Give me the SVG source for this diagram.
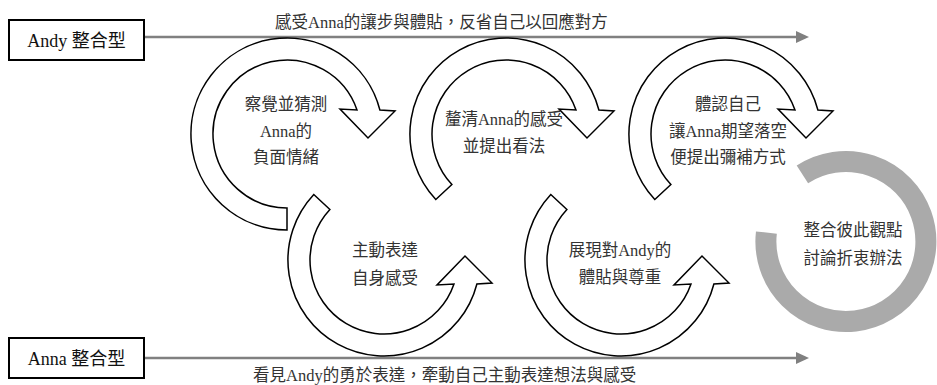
<svg xmlns="http://www.w3.org/2000/svg" xmlns:xlink="http://www.w3.org/1999/xlink" width="937" height="385" viewBox="0 0 937 385">
<style>
.t{font-family:"Liberation Serif","Noto Sans CJK TC",serif;font-size:16.5px;fill:#333}
.m{text-anchor:middle}
.box{fill:#fff;stroke:#000;stroke-width:2}
.bt{font-family:"Liberation Serif","Noto Sans CJK TC",serif;font-size:18px;fill:#111;text-anchor:middle}
.arr{fill:#fff;stroke:#000;stroke-width:1.5;stroke-linejoin:miter}
.ln{stroke:#808080;stroke-width:2.5;fill:none}
.hd{fill:#808080}
</style>
<defs>
<path id="a1" class="arr" d="M 0,96 A 96 96 0 1 1 92.9,-24 L 108,-23 L 81,4 L 53,-25 L 70,-24 A 74 74 0 1 0 0,74 Z"/>
<path id="a2" class="arr" d="M -70.2,65.5 A 96 96 0 1 1 92.9,-24 L 108,-23 L 81,4 L 53,-25 L 70,-24 A 74 74 0 1 0 -54.1,50.5 Z"/>
</defs>
<g id="connectors">
<line class="ln" x1="144" y1="37" x2="798" y2="37"/>
<polygon class="hd" points="796,31 809,37 796,43"/>
<line class="ln" x1="144" y1="358" x2="798" y2="358"/>
<polygon class="hd" points="796,352 809,358 796,364"/>
</g>
<g id="label-top"><text class="t" x="275" y="28">感受Anna的讓步與體貼，反省自己以回應對方</text></g>
<g id="label-bottom"><text class="t" x="253" y="381">看見Andy的勇於表達，牽動自己主動表達想法與感受</text></g>
<g id="andy">
<rect class="box" x="9" y="20" width="135" height="40"/>
<text class="bt" x="76.5" y="46.5">Andy 整合型</text>
</g>
<g id="anna">
<rect class="box" x="9" y="338" width="135" height="40"/>
<text class="bt" x="76.5" y="364.5">Anna 整合型</text>
</g>
<g id="step1">
<use xlink:href="#a1" transform="translate(287,134)"/>
<text class="t m" x="286" y="110">察覺並猜測</text>
<text class="t m" x="286" y="137">Anna的</text>
<text class="t m" x="286" y="163">負面情緒</text>
</g>
<g id="step2">
<use xlink:href="#a2" transform="translate(384,260) scale(1,-1)"/>
<text class="t m" x="385" y="256">主動表達</text>
<text class="t m" x="385" y="284">自身感受</text>
</g>
<g id="step3">
<use xlink:href="#a2" transform="translate(506,134)"/>
<text class="t m" x="504" y="125">釐清Anna的感受</text>
<text class="t m" x="504" y="152">並提出看法</text>
</g>
<g id="step4">
<use xlink:href="#a2" transform="translate(621,260) scale(1,-1)"/>
<text class="t m" x="620" y="256">展現對Andy的</text>
<text class="t m" x="620" y="283">體貼與尊重</text>
</g>
<g id="step5">
<use xlink:href="#a2" transform="translate(725,134)"/>
<text class="t m" x="728" y="110">體認自己</text>
<text class="t m" x="728" y="137">讓Anna期望落空</text>
<text class="t m" x="728" y="163">便提出彌補方式</text>
</g>
<g id="step6">
<path d="M 802.4,174.4 A 80 80 0 1 1 766.4,232.6" fill="none" stroke="#aaaaaa" stroke-width="21"/>
<text class="t m" x="853" y="236">整合彼此觀點</text>
<text class="t m" x="853" y="264">討論折衷辦法</text>
</g>
</svg>
